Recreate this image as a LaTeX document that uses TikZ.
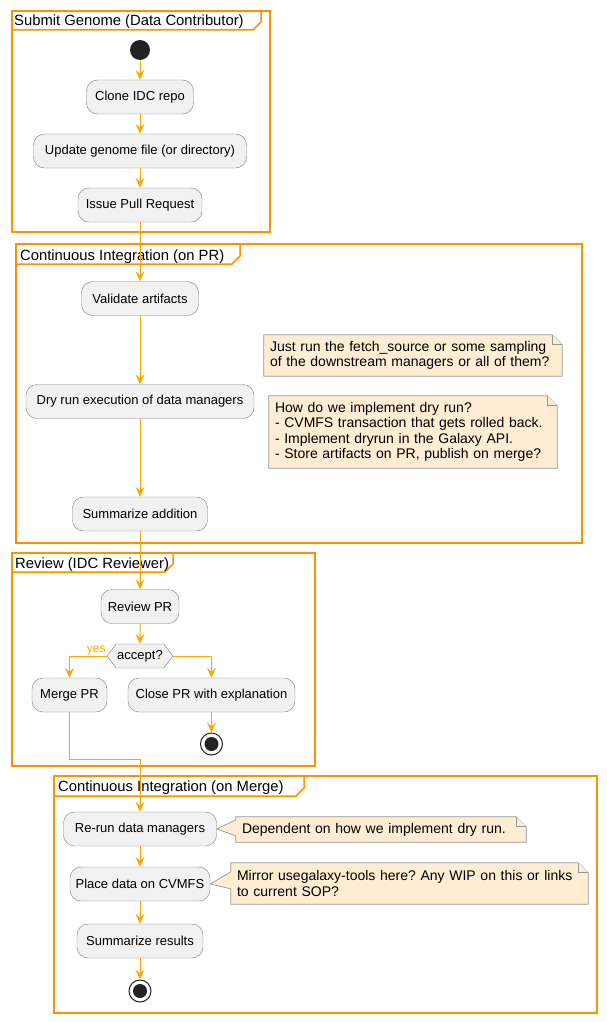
\documentclass[tikz,border=0pt]{standalone}
\usepackage{fontspec}
\setmainfont{Liberation Sans}
\usepackage{xcolor}
\usetikzlibrary{arrows.meta,shapes.symbols}
\pgfdeclarelayer{background}
\pgfsetlayers{background,main}
\frenchspacing
\definecolor{orangeLine}{RGB}{255, 165, 0}
\definecolor{orangeFrame}{RGB}{255, 145, 0}
\definecolor{grayFill}{RGB}{241, 241, 241}
\definecolor{grayBorder}{RGB}{125, 125, 125}
\definecolor{noteFill}{RGB}{254, 237, 210}
\definecolor{noteBorder}{RGB}{150, 150, 150}
\definecolor{darkDot}{RGB}{34, 34, 34}

\begin{document}
\begin{tikzpicture}[x=1pt, y=-1pt,
  actbox/.style={rectangle, draw=grayBorder, fill=grayFill, rounded corners=11pt,
    minimum height=34pt, inner sep=2pt, font=\fontsize{13}{15}\selectfont},
  notebox/.style={rectangle, inner xsep=6pt, inner ysep=3pt, align=left,
    font=\fontsize{14}{15.5}\selectfont},
  noteline/.style={draw=noteBorder, fill=noteFill, line width=0.7pt},
  decision/.style={signal, signal to=west and east, signal pointer angle=105,
    draw=grayBorder, fill=grayFill, minimum width=64pt, minimum height=24pt,
    inner sep=1pt, font=\fontsize{13}{15}\selectfont},
  startdot/.style={circle, fill=darkDot, minimum size=20pt, inner sep=0pt},
  endring/.style={circle, draw=darkDot, fill=white, line width=1pt,
    minimum size=22pt, inner sep=0pt},
  enddot/.style={circle, fill=darkDot, minimum size=14pt, inner sep=0pt},
  swimframe/.style={draw=orangeFrame, line width=1.5pt},
  frametitle/.style={anchor=base west, inner sep=0pt, font=\fontsize{14.8}{17}\selectfont},
  yeslabel/.style={text=orangeLine, font=\fontsize{12}{14}\selectfont, inner sep=1pt},
  arrow/.style={-{Stealth[length=10pt, width=9pt, inset=4pt]}, orangeLine, line width=1pt}
]
\useasboundingbox (0,0) rectangle (606,1022);

% Submit Genome
\draw[swimframe] (12,11) rectangle (270,232);
\draw[swimframe] (12,30) -- (253,30) -- (261,22) -- (261,11);
\node[frametitle] (titleSubmit) at (14,26) {Submit Genome (Data Contributor)};

\node[startdot] (start) at (140,50) {};
\node[actbox, minimum width=107pt] (clone) at (140,97) {Clone IDC repo};
\node[actbox, minimum width=213pt] (update) at (140,151) {Update genome file (or directory)};
\node[actbox, minimum width=124pt] (issue) at (140,205) {Issue Pull Request};

% Continuous Integration (on PR)
\draw[swimframe] (16,244) rectangle (582,543);
\draw[swimframe] (16,264) -- (232,264) -- (240,256) -- (240,244);
\node[frametitle] (titlePR) at (20,260) {Continuous Integration (on PR)};

\node[actbox, minimum width=117pt] (validate) at (140,298.5) {Validate artifacts};
\node[actbox, minimum width=228pt] (dryrun) at (140,401.5) {Dry run execution of data managers};
\node[actbox, minimum width=135pt] (summaryPR) at (140,514) {Summarize addition};

\node[notebox, text width=286pt, minimum height=41pt] (noteFetch) at (413,355.5)
  {Just run the fetch\_source or some sampling\\of the downstream managers or all of them?};
\node[notebox, text width=276pt, minimum height=72pt] (noteDry) at (413,432)
  {How do we implement dry run?\\- CVMFS transaction that gets rolled back.\\- Implement dryrun in the Galaxy API.\\- Store artifacts on PR, publish on merge?};

% Review (IDC Reviewer)
\draw[swimframe] (12,553) rectangle (315,766);
\draw[swimframe] (12,572) -- (165,572) -- (173,564) -- (173,553);
\node[frametitle] (titleReview) at (15,568) {Review (IDC Reviewer)};

\node[actbox, minimum width=78pt] (review) at (140,606.5) {Review PR};
\node[decision] (accept) at (140,656) {accept?};
\node[yeslabel, anchor=south east] (yes) at (accept.west) {yes};
\node[actbox, minimum width=75pt] (merge) at (69.5,695) {Merge PR};
\node[actbox, minimum width=167pt] (close) at (211.5,695) {Close PR with explanation};
\node[endring] (stopReview) at (211.5,744) {};
\node[enddot] (stopReviewDot) at (stopReview) {};

% Continuous Integration (on Merge)
\draw[swimframe] (54,776) rectangle (597,1013);
\draw[swimframe] (54,796) -- (296,796) -- (304,788) -- (304,776);
\node[frametitle] (titleMerge) at (58,791) {Continuous Integration (on Merge)};

\node[actbox, minimum width=153pt] (rerun) at (140,829) {Re-run data managers};
\node[actbox, minimum width=140pt] (place) at (140,884) {Place data on CVMFS};
\node[actbox, minimum width=126pt] (summaryMerge) at (140,941) {Summarize results};
\node[endring] (stopMerge) at (140,991) {};
\node[enddot] (stopMergeDot) at (stopMerge) {};

\node[notebox, text width=278pt, minimum height=25pt] (noteRerun) at (381,829.5)
  {Dependent on how we implement dry run.};
\node[notebox, text width=345pt, minimum height=41pt] (notePlace) at (409.5,883.5)
  {Mirror usegalaxy-tools here? Any WIP on this or links\\to current SOP?};

% note outlines
\begin{pgfonlayer}{background}
  \foreach \n in {noteFetch,noteDry}
    \draw[noteline] (\n.north west) -- ([xshift=-10pt]\n.north east)
      -- ([yshift=-10pt]\n.north east) -- (\n.south east) -- (\n.south west) -- cycle;
  \draw[noteline] (noteRerun.north west) -- ([xshift=-10pt]noteRerun.north east)
    -- ([yshift=-10pt]noteRerun.north east) -- (noteRerun.south east)
    -- (noteRerun.south west) -- ([yshift=-19pt]noteRerun.north west)
    -- (rerun.east) -- ([yshift=-3pt]noteRerun.north west) -- cycle;
  \draw[noteline] (notePlace.north west) -- ([xshift=-10pt]notePlace.north east)
    -- ([yshift=-10pt]notePlace.north east) -- (notePlace.south east)
    -- (notePlace.south west) -- ([yshift=-26pt]notePlace.north west)
    -- (place.east) -- ([yshift=-9pt]notePlace.north west) -- cycle;
\end{pgfonlayer}
\foreach \n in {noteFetch,noteDry,noteRerun,notePlace}
  \draw[noteline] ([xshift=-10pt]\n.north east) -- ([xshift=-10pt,yshift=-10pt]\n.north east)
    -- ([yshift=-10pt]\n.north east);

% flow
\draw[arrow] (start) -- (clone);
\draw[arrow] (clone) -- (update);
\draw[arrow] (update) -- (issue);
\draw[arrow] (issue) -- (validate);
\draw[arrow] (validate) -- (dryrun);
\draw[arrow] (dryrun) -- (summaryPR);
\draw[arrow] (summaryPR) -- (review);
\draw[arrow] (review) -- (accept);
\draw[arrow] (accept.west) -| (merge.north);
\draw[arrow] (accept.east) -| (close.north);
\draw[arrow] (close) -- (stopReview);
\coordinate (mergeJoin) at (140,759);
\draw[arrow] (merge.south) |- (mergeJoin) -- (rerun.north);
\draw[arrow] (rerun) -- (place);
\draw[arrow] (place) -- (summaryMerge);
\draw[arrow] (summaryMerge) -- (stopMerge);
\end{tikzpicture}
\end{document}
